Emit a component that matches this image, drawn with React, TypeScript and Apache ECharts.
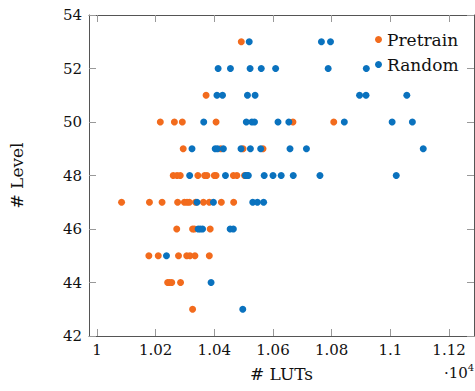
import React, { useEffect, useRef } from "react";
import * as echarts from "echarts";

const pretrainLUTs = [
  10492,
  10372,
  10216, 10264, 10291, 10406, 10668, 10807,
  10294, 10422, 10498, 10566,
  10260, 10273, 10284, 10344, 10367, 10375, 10400, 10406, 10465, 10477, 10503,
  10084, 10179, 10222, 10275, 10298, 10307, 10315, 10336, 10363, 10383, 10424, 10466,
  10272, 10326, 10332, 10386,
  10177, 10209, 10278, 10306, 10317, 10334, 10383,
  10241, 10247, 10255, 10285,
  10326,
];
const pretrainLevels = [
  53,
  51,
  50, 50, 50, 50, 50, 50,
  49, 49, 49, 49,
  48, 48, 48, 48, 48, 48, 48, 48, 48, 48, 48,
  47, 47, 47, 47, 47, 47, 47, 47, 47, 47, 47, 47,
  46, 46, 46, 46,
  45, 45, 45, 45, 45, 45, 45,
  44, 44, 44, 44,
  43,
];

const randomLUTs = [
  10519, 10765, 10796,
  10413, 10455, 10522, 10560, 10609, 10788, 10918,
  10409, 10428, 10513, 10539, 10895, 10917, 11056,
  10364, 10509, 10528, 10537, 10617, 10654, 10843, 11006, 11075,
  10324, 10403, 10411, 10431, 10491, 10523, 10558, 10658, 10714, 11112,
  10316, 10438, 10506, 10512, 10516, 10570, 10600, 10628, 10669, 10760, 11020,
  10341, 10397, 10531, 10547, 10568,
  10345, 10352, 10360, 10454, 10465,
  10237,
  10389,
  10497,
];
const randomLevels = [
  53, 53, 53,
  52, 52, 52, 52, 52, 52, 52,
  51, 51, 51, 51, 51, 51, 51,
  50, 50, 50, 50, 50, 50, 50, 50, 50,
  49, 49, 49, 49, 49, 49, 49, 49, 49, 49,
  48, 48, 48, 48, 48, 48, 48, 48, 48, 48, 48,
  47, 47, 47, 47, 47,
  46, 46, 46, 46, 46,
  45,
  44,
  43,
];

const seriesNames = ["Pretrain", "Random"];
const xTickValues = [10000, 10200, 10400, 10600, 10800, 11000, 11200];
const xMin = 9973;
const xMax = 11285;
const yMin = 42;
const yMax = 54;

const FONT = "DejaVu Serif";
const ORANGE = "#F26B1D";
const BLUE = "#0A72BE";

export default function App() {
  const ref = useRef<HTMLDivElement>(null);
  useEffect(() => {
    if (!ref.current) return;
    const chart = echarts.init(ref.current, undefined, { renderer: "svg" });
    const pairs = (xs: number[], ys: number[]) => xs.map((x, i) => [x, ys[i]]);
    const tickLabel = (v: number) => String(+(v / 10000).toFixed(2));
    const axisLine = { show: true, lineStyle: { color: "#555", width: 1 } };
    const tick = { show: true, inside: true, length: 7, lineStyle: { color: "#999", width: 1 } };
    chart.setOption({
      animation: false,
      grid: { left: 88, right: 1, top: 15, bottom: 55 },
      legend: {
        data: seriesNames,
        orient: "vertical",
        left: 370,
        top: 26,
        icon: "circle",
        itemWidth: 7,
        itemHeight: 7,
        itemGap: 8,
        textStyle: { fontFamily: FONT, fontSize: 17, color: "#111", lineHeight: 17 },
      },
      xAxis: [
        {
          type: "value",
          min: xMin,
          max: xMax,
          axisLine,
          axisTick: { ...tick, customValues: xTickValues },
          splitLine: { show: false },
          axisLabel: {
            customValues: xTickValues,
            formatter: tickLabel,
            fontFamily: FONT,
            fontSize: 15,
            color: "#111",
            margin: 6,
          },
          name: "# LUTs",
          nameLocation: "middle",
          nameGap: 29,
          nameTextStyle: { fontFamily: FONT, fontSize: 17, color: "#111" },
        },
        {
          type: "value",
          position: "top",
          min: xMin,
          max: xMax,
          axisLine,
          axisTick: { ...tick, customValues: xTickValues },
          axisLabel: { show: false, customValues: xTickValues },
          splitLine: { show: false },
        },
      ],
      yAxis: [
        {
          type: "value",
          min: yMin,
          max: yMax,
          interval: 2,
          axisLine,
          axisTick: tick,
          splitLine: { show: false },
          axisLabel: { fontFamily: FONT, fontSize: 15, color: "#111", margin: 7 },
          name: "# Level",
          nameLocation: "middle",
          nameGap: 64,
          nameTextStyle: { fontFamily: FONT, fontSize: 17, color: "#111" },
        },
        {
          type: "value",
          position: "right",
          min: yMin,
          max: yMax,
          interval: 2,
          axisLine,
          axisTick: tick,
          axisLabel: { show: false },
          splitLine: { show: false },
        },
      ],
      graphic: [
        {
          type: "text",
          left: 444,
          top: 362,
          style: {
            text: "{a|·10}{b|4}",
            rich: {
              a: { fontFamily: FONT, fontSize: 15, fill: "#111", verticalAlign: "bottom" },
              b: { fontFamily: FONT, fontSize: 10, fill: "#111", verticalAlign: "top", padding: [0, 0, 8, 0] },
            },
          },
        },
      ],
      series: [
        {
          name: seriesNames[0],
          type: "scatter",
          symbol: "circle",
          symbolSize: 7,
          itemStyle: { color: ORANGE, opacity: 1 },
          data: pairs(pretrainLUTs, pretrainLevels),
        },
        {
          name: seriesNames[1],
          type: "scatter",
          symbol: "circle",
          symbolSize: 7,
          itemStyle: { color: BLUE, opacity: 1 },
          data: pairs(randomLUTs, randomLevels),
        },
      ],
    });
    return () => chart.dispose();
  }, []);
  return <div ref={ref} style={{ width: 475, height: 391, position: "absolute", left: 0, top: 0 }} />;
}
